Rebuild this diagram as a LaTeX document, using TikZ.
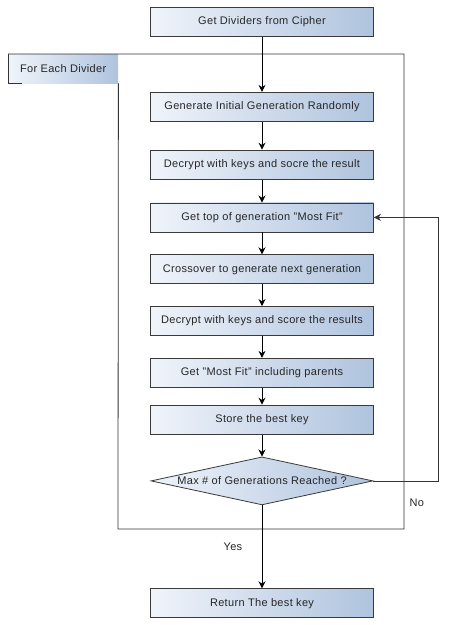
\documentclass[tikz,border=0pt]{standalone}
\usepackage{fontspec}
\setmainfont{Liberation Sans}[LetterSpace=3]
\usepackage{tikz}
\usetikzlibrary{arrows.meta, positioning, shapes.geometric}
\definecolor{boxleft}{HTML}{F0F4FA}
\definecolor{boxright}{HTML}{AFC3DE}
\definecolor{boxline}{HTML}{3A3A3A}
\tikzstyle{block} = [minimum width=223pt, minimum height=29pt, draw=boxline, line width=0.8pt, left color=boxleft, right color=boxright, font=\fontsize{11}{13}\selectfont, text=black!85, inner sep=2pt]
\tikzstyle{process} = [block, rectangle]
\tikzstyle{decision} = [block, diamond, aspect=4.6, minimum width=222pt, minimum height=48pt, inner sep=0pt]
\tikzstyle{caption} = [left color=boxleft, right color=boxright, minimum width=110pt, minimum height=29pt, font=\fontsize{11}{13}\selectfont, text=black!85, inner sep=0pt]
\tikzstyle{label} = [font=\fontsize{11}{13}\selectfont, text=black!85]
\tikzstyle{path} = [-{Stealth[length=7pt, width=7pt]}, line width=0.9pt, black]
\tikzstyle{loop} = [-{Stealth[length=7pt, width=7pt]}, line width=0.6pt, black!80]
\tikzstyle{frame} = [line width=0.8pt, black!80]

\begin{document}
\begin{tikzpicture}[node distance=22pt]
    \useasboundingbox (0,0) rectangle (469pt,-625pt);

    % Steps.
    \node (dividers) [process] at (262pt,-22pt) {Get Dividers from Cipher};
    \node (init) [process, below=55pt of dividers] {Generate Initial Generation Randomly};
    \node (decrypt) [process, below=28pt of init] {Decrypt with keys and socre the result};
    \node (top) [process, below=23pt of decrypt] {Get top of generation "Most Fit"};
    \node (cross) [process, below=of top] {Crossover to generate next generation};
    \node (rescore) [process, below=of cross] {Decrypt with keys and score the results};
    \node (mostfit) [process, below=of rescore] {Get "Most Fit" including parents};
    \node (store) [process, below=17pt of mostfit] {Store the best key};
    \node (reached) [decision, below=of store] {Max \# of Generations Reached ?};
    \node (best) [process, below=83pt of reached] {Return The best key};

    % Loop frame.
    \node (each) [caption, anchor=north west] at (8pt,-54pt) {For Each Divider};
    \coordinate (frameNE) at (404pt,-54pt);
    \coordinate (frameSW) at (118pt,-529pt);
    \draw [frame] (each.north west) -- (frameNE) |- (frameSW) -- (each.south east);
    \draw [frame] (each.north west) -- (each.south west) -- ++(14pt,0);

    % Arrows.
    \foreach\i/\j in {dividers/init, init/decrypt, decrypt/top, top/cross, cross/rescore, rescore/mostfit, mostfit/store, store/reached} {
        \draw [path] (\i) -- (\j);
    }
    \draw [path] (reached) -- node [label, left=16pt] {Yes} (best);
    \draw [loop] (reached.east) -- node [label, pos=0.5, anchor=north west, yshift=-14pt] {No} ++(65pt,0) |- (top.east);
\end{tikzpicture}
\end{document}
